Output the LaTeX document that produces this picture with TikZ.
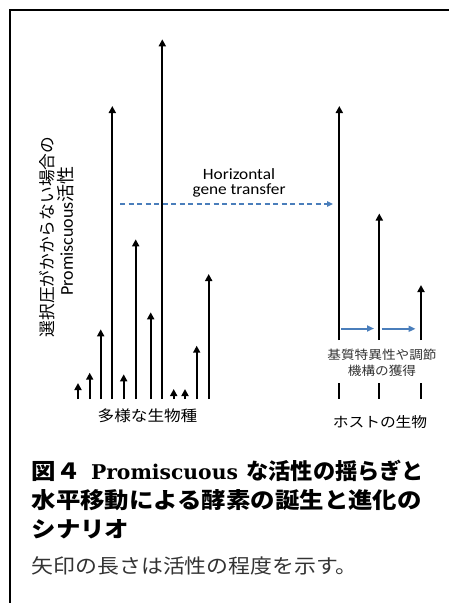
\documentclass[tikz,border=0pt]{standalone}
\usepackage{fontspec}
\usetikzlibrary{arrows.meta}
\newfontfamily\jp[FakeStretch=1.1]{Noto Sans CJK JP}
\newfontfamily\jpr{Noto Sans CJK JP}
\newfontfamily\carl[FakeStretch=1.1]{Carlito}
\newfontfamily\carlr{Carlito}
\newfontfamily\serb{DejaVu Serif}
\definecolor{hgtblue}{HTML}{4A7EBB}
\definecolor{subgray}{HTML}{333333}
\tikzset{
  actarrow/.style={line width=2.2pt,-{Triangle[length=7pt,width=7pt]}},
  plainline/.style={line width=2.2pt},
  bluearrow/.style={hgtblue,line width=2pt,-{Triangle[length=7pt,width=6pt]}},
  bluedash/.style={hgtblue,line width=1.3pt,dash pattern=on 5pt off 3.5pt,-{Triangle[length=6pt,width=5.5pt]}},
  framestyle/.style={line width=2pt,black},
  lbl/.style={inner sep=0pt,outer sep=0pt}
}
\begin{document}
\begin{tikzpicture}[x=1pt,y=-1pt]
\useasboundingbox (0,0) rectangle (449,603);
% frame
\coordinate (fbl) at (10,603);
\coordinate (ftl) at (10,10);
\coordinate (ftr) at (449,10);
\draw[framestyle] (fbl) -- (ftl) -- (ftr);

% left group of arrows
\foreach \i/\x/\t in {1/78/383,2/89.7/372.7,3/100.7/329.3,4/112.3/106,5/123.7/374.3,6/135.7/239.3,7/150.7/312.3,8/162.3/39.3,9/173.7/389,10/185/389,11/196.7/345.7,12/208.7/274}{
  \coordinate (b\i) at (\x,399);
  \coordinate (t\i) at (\x,\t);
  \draw[actarrow] (b\i) -- (t\i);
}

% right group (host)
\foreach \i/\x/\t in {1/339.3/106,2/379.3/213.5,3/421/285}{
  \coordinate (hb\i) at (\x,340);
  \coordinate (ht\i) at (\x,\t);
  \coordinate (hs\i) at (\x,383);
  \coordinate (he\i) at (\x,399);
  \draw[actarrow] (hb\i) -- (ht\i);
  \draw[plainline] (hs\i) -- (he\i);
}

% blue arrows
\coordinate (ba1s) at (341,328.5);
\coordinate (ba1e) at (374,328.5);
\coordinate (ba2s) at (381.5,328.8);
\coordinate (ba2e) at (415.5,328.8);
\draw[bluearrow] (ba1s) -- (ba1e);
\draw[bluearrow] (ba2s) -- (ba2e);

% horizontal gene transfer
\coordinate (hgts) at (120,204);
\coordinate (hgte) at (333,204);
\draw[bluedash] (hgts) -- (hgte);
\node[lbl,align=center,font={\carl\fontsize{15.7}{15.5}\selectfont}] (hgt) at (239,183) {Horizontal\\gene transfer};

% labels
\node[lbl,font={\jp\fontsize{15.1}{18}\selectfont}] (diverse) at (147.5,416) {多様な生物種};
\node[lbl,font={\jp\fontsize{14.3}{17}\selectfont}] (host) at (380,422) {ホストの生物};
\node[lbl,align=center,text=subgray,font={\jp\fontsize{12.4}{15.7}\selectfont}] (acq) at (382,363) {基質特異性や調節\\機構の獲得};

% vertical axis label
\node[lbl,rotate=90,font={\jpr\fontsize{16.7}{20}\selectfont}] (ylab1) at (46.7,237) {選択圧がかからない場合の};
\node[lbl,rotate=90,font={\fontsize{18}{20}\selectfont}] (ylab2) at (66,231) {{\carlr Promiscuous}{\jpr 活性}};

% caption
\node[lbl,anchor=base west,font={\jp\bfseries\fontsize{22.2}{28}\selectfont}] (cap1a) at (31.7,479.5) {図４};
\node[lbl,anchor=base west,font={\serb\bfseries\fontsize{20.3}{28}\selectfont}] (cap1b) at (91,479.5) {Promiscuous};
\node[lbl,anchor=base east,font={\jpr\bfseries\fontsize{22.2}{28}\selectfont}] (cap1c) at (424,479.5) {な活性の揺らぎと};
\node[lbl,anchor=base west,font={\jp\bfseries\fontsize{22.2}{28}\selectfont}] (cap2) at (31.7,508.5) {水平移動による酵素の誕生と進化の};
\node[lbl,anchor=base west,font={\jp\bfseries\fontsize{22.2}{28}\selectfont}] (cap3) at (31.7,537) {シナリオ};
\node[lbl,anchor=base west,text=subgray,font={\jp\fontsize{19.9}{24}\selectfont}] (cap4) at (31.7,573) {矢印の長さは活性の程度を示す。};
\end{tikzpicture}
\end{document}
